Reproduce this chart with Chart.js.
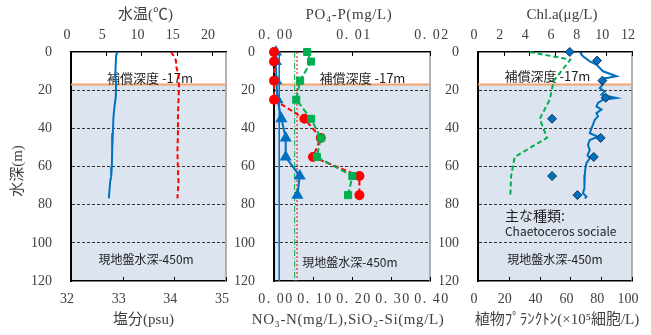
<!DOCTYPE html>
<html>
<head>
<meta charset="utf-8">
<script src="https://cdn.jsdelivr.net/npm/chart.js@4"></script>
<style>
  html, body { margin: 0; padding: 0; background: #fff; }
  #wrap { position: relative; width: 651px; height: 335px; overflow: hidden; }
  #wrap canvas { position: absolute; top: 0; }
</style>
</head>
<body>
<div id="wrap">
  <canvas id="c1" width="248" height="335" style="left:0px"></canvas>
  <canvas id="c2" width="222" height="335" style="left:230px"></canvas>
  <canvas id="c3" width="211" height="335" style="left:440px"></canvas>
</div>
<script>
/* ========= DATA ========= */
const depthTicks = [0, 20, 40, 60, 80, 100, 120];
const compDepth = 17;

// panel 1 : water temperature / salinity
const tempTicks = [0, 5, 10, 15, 20];
const salTicks = [32, 33, 34, 35];
const tempDepth = [0, 1.7, 13, 16.4, 23.4, 28.7, 33.9, 42.6, 51.4, 60.1, 65.3, 68, 72.3, 76.7];
const tempVal = [6.59, 6.4, 6.27, 6.4, 6.36, 6.17, 6.03, 5.94, 5.84, 5.8, 5.7, 5.56, 5.46, 5.37];
const salDepth = [0, 1.7, 4.4, 7.9, 12.3, 18.4, 25.4, 34.1, 42.9, 51.7, 62, 68, 72.3, 76.7];
const salVal = [33.93, 33.98, 34.03, 34.04, 34.08, 34.09, 34.08, 34.07, 34.07, 34.06, 34.07, 34.08, 34.07, 34.06];

// panel 2 : nutrients
const po4Ticks = [0, 0.01, 0.02];
const nTicks = [0, 0.1, 0.2, 0.3, 0.4];
const sampleDepth = [0, 5, 15, 25, 35, 45, 55, 65, 75];
const po4 = [0.00025, 0.00025, 0.0003, 0.00045, 0.00095, 0.0015, 0.0015, 0.0033, 0.003];
const no3 = [0, 0, 0, 0, 0.078, 0.12, 0.1, 0.219, 0.219];
const sio2 = [0.085, 0.095, 0.067, 0.057, 0.095, 0.12, 0.11, 0.201, 0.19];
const po4Ref = 0.00067;
const no3Ref = 0.059;
const sio2Ref = 0.053;

// panel 3 : chlorophyll / phytoplankton
const chlTicks = [0, 2, 4, 6, 8, 10, 12];
const cellTicks = [0, 20, 40, 60, 80, 100];
const chlProfDepth = [0, 2.3, 4.9, 6.6, 8.4, 10.1, 12.7, 14, 15.4, 17, 18.9, 20.6, 22.4, 24.1, 25, 26.7, 28.5, 30.2, 32, 33.7, 35.5, 38, 40, 42.6, 44.4, 46.1, 48.7, 51.4, 54, 55.7, 58.3, 61, 64.5, 68, 71.4, 74, 75.8, 76.7];
const chlProf = [7.93, 8.18, 8.71, 9.23, 9.49, 9.74, 10.79, 9.74, 9.62, 9.74, 9.49, 9.88, 9.62, 10.79, 9.74, 9.35, 9.23, 9.62, 9.23, 9.35, 9.1, 8.96, 8.84, 8.71, 9.35, 8.71, 8.57, 8.71, 8.53, 8.71, 8.45, 8.37, 8.32, 8.26, 8.32, 8.18, 8.45, 8.32];
const chlBottleDepth = [0, 4.5, 15, 24, 35, 45, 55, 65, 75];
const chlBottle = [7.15, 9.28, 9.69, 9.95, 5.77, 9.56, 9.02, 5.77, 7.75];
const cellDepth = [0, 4, 15, 25, 35, 45, 55, 65, 75];
const cells = [33.6, 60.0, 49.2, 46.6, 40.1, 44.8, 23.8, 21.5, 21.0];

/* ========= STYLE ========= */
const serif = '"Liberation Serif", "Noto Sans CJK JP", serif';
const sans = '"Noto Sans CJK JP", "Noto Sans", sans-serif';
const BLUE = '#0070c0', RED = '#ff0000', GREEN = '#00b050';

/* ========= PLUGIN ========= */
function line(ctx, x1, y1, x2, y2) {
  ctx.beginPath(); ctx.moveTo(x1, y1); ctx.lineTo(x2, y2); ctx.stroke();
}

const decor = {
  id: 'decor',
  beforeDraw(chart) {
    const { ctx, chartArea: a } = chart;
    const yc = chart.scales.y.getPixelForValue(compDepth);
    ctx.save();
    ctx.fillStyle = '#ffffff';
    ctx.fillRect(a.left, a.top, a.width, yc - a.top);
    ctx.fillStyle = '#dce4f0';
    ctx.fillRect(a.left, yc, a.width, a.bottom - yc);
    ctx.restore();
  },
  beforeDatasetsDraw(chart, args, o) {
    const { ctx, chartArea: a, scales } = chart;
    const yc = scales.y.getPixelForValue(compDepth);
    ctx.save();
    ctx.strokeStyle = '#9a9a9a'; ctx.lineWidth = 1.5;
    line(ctx, a.right, a.top, a.right, a.bottom);
    ctx.strokeStyle = '#000'; ctx.lineWidth = 1;
    scales.xt.ticks.forEach(t => {
      const x = Math.round(scales.xt.getPixelForValue(t.value)) + 0.5;
      line(ctx, x, a.top, x, a.top + 4);
    });
    scales.xb.ticks.forEach(t => {
      const x = Math.round(scales.xb.getPixelForValue(t.value)) + 0.5;
      line(ctx, x, a.bottom, x, a.bottom - 4);
    });
    ctx.strokeStyle = '#f4a46c'; ctx.lineWidth = 2;
    line(ctx, a.left, yc, a.right, yc);
    ctx.fillStyle = '#1e1e1e';
    ctx.textBaseline = 'middle';
    o.notes.forEach(n => {
      ctx.font = n.size + 'px ' + sans;
      ctx.textAlign = n.align || 'center';
      ctx.fillText(n.text, a.left + n.fx * a.width, a.top + n.fy * a.height);
    });
    ctx.restore();
  },
  afterDraw(chart, args, o) {
    const { ctx, chartArea: a, scales } = chart;
    const cx = (a.left + a.right) / 2;
    const fmt = o.fmt || (v => String(v));
    ctx.save();
    ctx.fillStyle = '#404040';
    ctx.textAlign = 'center';
    ctx.textBaseline = 'middle';
    // x tick labels
    ctx.font = '14px ' + serif;
    ctx.letterSpacing = o.tickSpacing || '0px';
    scales.xt.ticks.forEach(t => {
      ctx.fillText(fmt(t.value), scales.xt.getPixelForValue(t.value) + o.tickDx, 35);
    });
    scales.xb.ticks.forEach(t => {
      ctx.fillText(fmt(t.value), scales.xb.getPixelForValue(t.value) + o.tickDx, 299);
    });
    // axis titles
    ctx.font = '15px ' + serif;
    ctx.letterSpacing = o.titleSpacing || '0px';
    ctx.fillText(o.top, cx + o.topDx, 15);
    ctx.fillText(o.bottom, cx + o.bottomDx, 320);
    if (o.left) {
      ctx.translate(18, 171);
      ctx.rotate(-Math.PI / 2);
      ctx.fillText(o.left, 0, 0);
    }
    ctx.restore();
  }
};

/* ========= HELPERS ========= */
function ser(vals, depths, xAxisID, style) {
  return Object.assign({
    data: vals.map((v, i) => ({ x: v, y: depths[i] })),
    xAxisID, yAxisID: 'y', showLine: true, pointRadius: 0,
    borderWidth: 2, clip: false, fill: false, tension: 0
  }, style);
}

function vline(v, xAxisID, style) {
  return ser([v, v], [0, 120], xAxisID, Object.assign({ borderWidth: 1 }, style));
}

function xScale(pos, min, max, ticks) {
  return {
    type: 'linear', position: pos, min, max,
    afterBuildTicks: s => { s.ticks = ticks.map(v => ({ value: v })); },
    afterFit: s => { s.height = pos === 'top' ? 52 : 54; },
    grid: { display: false },
    border: { display: true, color: '#000', width: 1.5 },
    ticks: { display: false }
  };
}

function yScale(width) {
  return {
    type: 'linear', reverse: true, min: 0, max: 120,
    afterBuildTicks: s => { s.ticks = depthTicks.map(v => ({ value: v })); },
    afterFit: s => { s.width = width; },
    grid: {
      drawTicks: false, lineWidth: 1,
      color: c => (c.tick && (c.tick.value === 0 || c.tick.value === 120)) ? 'rgba(0,0,0,0)' : '#333'
    },
    border: { display: true, color: '#000', width: 2, dash: [3, 2] },
    ticks: { font: { family: serif, size: 14 }, color: '#404040', padding: 19 }
  };
}

function panel(id, cfg) {
  new Chart(document.getElementById(id), {
    type: 'scatter',
    data: { datasets: cfg.datasets },
    options: {
      responsive: false, animation: false,
      layout: { padding: { left: 0, right: cfg.padRight, top: 0, bottom: 0 } },
      plugins: { legend: { display: false }, tooltip: { enabled: false }, decor: cfg.decor },
      scales: { xt: cfg.xt, xb: cfg.xb, y: yScale(cfg.yWidth) }
    },
    plugins: [decor]
  });
}

const fix2 = v => v.toFixed(2).replace('.', '. ');

/* ========= PANEL 1 ========= */
panel('c1', {
  yWidth: 71, padRight: 22,
  xt: xScale('top', 0, 22, tempTicks),
  xb: xScale('bottom', 32, 35, salTicks),
  datasets: [
    ser(tempVal, tempDepth, 'xt', { borderColor: BLUE }),
    ser(salVal, salDepth, 'xb', { borderColor: RED, borderDash: [5, 3] })
  ],
  decor: {
    tickDx: -4,
    top: '水温(℃)', topDx: -3, bottom: '塩分(psu)', bottomDx: -5, left: '水深(m)',
    notes: [
      { text: '補償深度 -17m', fx: 0.51, fy: 0.114, size: 13 },
      { text: '現地盤水深-450m', fx: 0.484, fy: 0.904, size: 12 }
    ]
  }
});

/* ========= PANEL 2 ========= */
panel('c2', {
  yWidth: 44, padRight: 22,
  xt: xScale('top', 0, 0.02, po4Ticks),
  xb: xScale('bottom', 0, 0.4, nTicks),
  datasets: [
    ser(sio2, sampleDepth, 'xb', {
      borderColor: GREEN, borderDash: [6, 3], pointStyle: 'rect', pointRadius: 5,
      pointBackgroundColor: GREEN, pointBorderColor: GREEN, pointBorderWidth: 1
    }),
    ser(no3, sampleDepth, 'xb', {
      borderColor: RED, borderDash: [5, 3], pointRadius: 4,
      pointBackgroundColor: RED, pointBorderColor: RED
    }),
    ser(po4, sampleDepth, 'xt', {
      borderColor: BLUE, pointStyle: 'triangle', pointRadius: 5,
      pointBackgroundColor: BLUE, pointBorderColor: BLUE
    }),
    vline(no3Ref, 'xb', { borderColor: RED, borderDash: [2, 2] }),
    vline(sio2Ref, 'xb', { borderColor: GREEN, borderDash: [6, 2, 1, 2] }),
    vline(po4Ref, 'xt', { borderColor: BLUE, borderWidth: 1.5 })
  ],
  decor: {
    tickDx: 2, fmt: fix2, tickSpacing: '1.5px', titleSpacing: '0.6px',
    top: 'PO₄-P(mg/L)', topDx: -3, bottom: 'NO₃-N(mg/L),SiO₂-Si(mg/L)', bottomDx: -4,
    notes: [
      { text: '補償深度 -17m', fx: 0.567, fy: 0.114, size: 13 },
      { text: '現地盤水深-450m', fx: 0.487, fy: 0.921, size: 12 }
    ]
  }
});

/* ========= PANEL 3 ========= */
panel('c3', {
  yWidth: 38, padRight: 19,
  xt: xScale('top', 0, 12, chlTicks),
  xb: xScale('bottom', 0, 100, cellTicks),
  datasets: [
    ser(chlBottle, chlBottleDepth, 'xt', {
      showLine: false, pointStyle: 'rectRot', pointRadius: 4.5,
      pointBackgroundColor: BLUE, pointBorderColor: '#17365d', pointBorderWidth: 1
    }),
    ser(chlProf, chlProfDepth, 'xt', { borderColor: BLUE }),
    ser(cells, cellDepth, 'xb', { borderColor: GREEN, borderDash: [5, 3] })
  ],
  decor: {
    tickDx: -4,
    top: 'Chl.a(μg/L)', topDx: 7, bottom: '植物ﾌﾟﾗﾝｸﾄﾝ(×10⁵細胞/L)', bottomDx: 2,
    notes: [
      { text: '補償深度 -17m', fx: 0.451, fy: 0.105, size: 13 },
      { text: '主な種類:', fx: 0.175, fy: 0.716, size: 14, align: 'left' },
      { text: 'Chaetoceros sociale', fx: 0.175, fy: 0.782, size: 12, align: 'left' },
      { text: '現地盤水深-450m', fx: 0.5, fy: 0.908, size: 12 }
    ]
  }
});
</script>
</body>
</html>
